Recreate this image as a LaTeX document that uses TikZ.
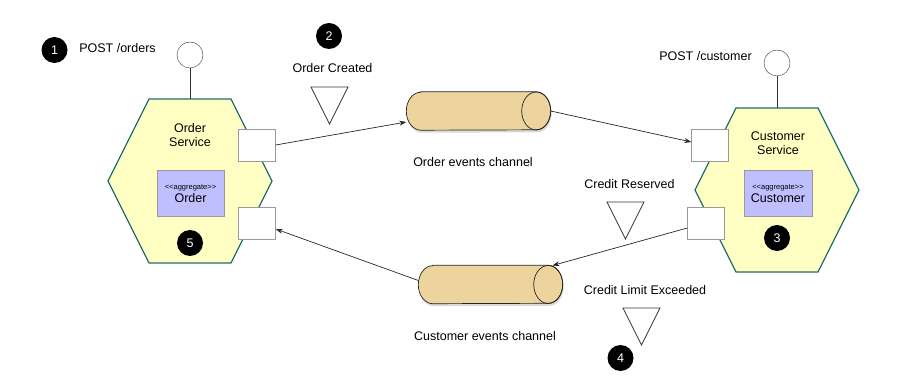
\documentclass[tikz,border=0pt]{standalone}
\usepackage{fontspec}
\setmainfont{Liberation Sans}
\usetikzlibrary{arrows.meta,positioning,shapes.geometric,shadows}

\definecolor{svcfill}{HTML}{FFFFC4}
\definecolor{svcline}{HTML}{1F6F6C}
\definecolor{aggfill}{HTML}{BFBFFF}
\definecolor{chanfill}{HTML}{ECD49C}

\begin{document}
\begin{tikzpicture}[x=1pt,y=-1pt,>={Stealth[length=7pt,width=5pt]},
  every node/.style={font=\fontsize{12.5}{14.5}\selectfont},
  svc/.style={draw=svcline,line width=1.2pt,fill=svcfill},
  port/.style={draw=black!40,fill=white,minimum width=37pt,minimum height=32pt,inner sep=0pt},
  agg/.style={draw=black!40,fill=aggfill,minimum width=67pt,minimum height=46pt,align=center,inner sep=0pt},
  iface/.style={draw=black!80,fill=white,circle,minimum size=26pt,inner sep=0pt},
  stepnum/.style={circle,fill=black,text=white,minimum size=26pt,inner sep=0pt},
  evt/.style={draw=black!80,line width=0.7pt,line join=miter},
  chan/.style={minimum width=144pt,minimum height=38pt,inner sep=0pt},
  tube/.style={draw=black!85,line width=0.7pt,fill=chanfill,
    drop shadow={opacity=0.3,shadow xshift=1pt,shadow yshift=-2.5pt}},
  flow/.style={->,draw=black!85,line width=0.7pt}]
  \useasboundingbox (0,0) rectangle (909,379);

  % the two services
  \foreach \cx/\cy/\nm in {190/181/ordtop, 777/190/custtop} {
    \draw[svc] (\cx-82,\cy) -- ++(41,-82) -- ++(82,0) -- ++(41,82)
      -- ++(-41,82) -- ++(-82,0) -- cycle;
    \coordinate (\nm) at (\cx,\cy-82);
  }
  \node[align=center] (ordname) at (190,135) {Order\\Service};
  \node[align=center] (custname) at (778,143) {Customer\\Service};
  \node[agg] (ordagg) at (190.5,193.5) {{\fontsize{7.5}{7.5}\selectfont <\kern0pt<aggregate>\kern0pt>}\\[-1pt]Order};
  \node[agg,minimum width=68pt] (custagg) at (778,193.5) {{\fontsize{7.5}{7.5}\selectfont <\kern0pt<aggregate>\kern0pt>}\\[-1pt]Customer};

  % ports
  \node[port] (ordout) at (257,145) {};
  \node[port] (ordin) at (257,223) {};
  \node[port] (custin) at (710,145) {};
  \node[port] (custout) at (706,223) {};

  % REST interfaces
  \node[iface] (ordapi) at (190,55) {};
  \node[iface] (custapi) at (777,63) {};
  \draw[black!80,line width=0.7pt] (ordapi) -- (ordtop);
  \draw[black!80,line width=0.7pt] (custapi) -- (custtop);
  \node (ordpost) at (117.5,48) {POST /orders};
  \node (custpost) at (705.5,56) {POST /customer};

  % channels, drawn as tubes round their nodes
  \node[chan] (ordch) at (478.5,111) {};
  \node[chan] (custch) at (490.5,284.5) {};
  \foreach \ch in {ordch,custch} {
    \draw[tube] ([xshift=14.5pt]\ch.north west) -- ([xshift=-14.5pt]\ch.north east)
      arc[start angle=90,end angle=-90,x radius=14.5pt,y radius=19pt]
      -- ([xshift=14.5pt]\ch.south west)
      arc[start angle=270,end angle=90,x radius=14.5pt,y radius=19pt] -- cycle;
    \draw[black!85,line width=0.7pt] ([xshift=-14.5pt]\ch.east) ellipse[x radius=14.5pt,y radius=19pt];
  }
  \node (ordchname) at (473,162) {Order events channel};
  \node (custchname) at (485,336) {Customer events channel};

  \draw[flow] (ordout.east) -- ([yshift=-11pt]ordch.west);
  \draw[flow] (ordch.east) -- ([yshift=3pt]custin.west);
  \draw[flow] ([yshift=-5pt]custout.west) -- ([xshift=62pt,yshift=19pt]custch.center);
  \draw[flow] ([yshift=4pt]custch.west) -- ([yshift=-6pt]ordin.east);

  % events
  \foreach \x/\y in {311/87, 607/202, 623/308}
    \draw[evt] (\x,\y) -- ++(37,0) -- ++(-18.5,37) -- cycle;
  \node (created) at (332.5,68) {Order Created};
  \node (reserved) at (629.5,184) {Credit Reserved};
  \node (exceeded) at (645,290) {Credit Limit Exceeded};

  % steps
  \node[stepnum] (s1) at (54.5,50) {1};
  \node[stepnum] (s2) at (329,36) {2};
  \node[stepnum] (s3) at (777,238) {3};
  \node[stepnum] (s4) at (620.5,358) {4};
  \node[stepnum] (s5) at (190,243) {5};
\end{tikzpicture}
\end{document}
